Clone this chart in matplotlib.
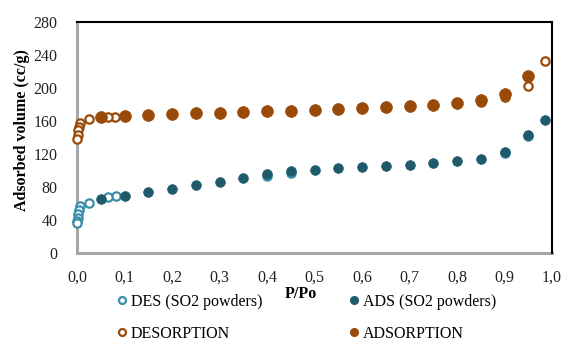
import matplotlib
matplotlib.use("Agg")
import matplotlib.pyplot as plt
from matplotlib.lines import Line2D

plt.rcParams['font.family'] = ['Liberation Serif', 'DejaVu Serif']

# SO2 powders adsorption / desorption
ads_so2_x = [0.05, 0.10, 0.15, 0.20, 0.25, 0.30, 0.35, 0.40, 0.45, 0.50, 0.55, 0.60,
             0.65, 0.70, 0.75, 0.80, 0.85, 0.90, 0.95, 0.985]
ads_so2_y = [65.5, 69.5, 73.5, 78.0, 82.0, 86.0, 90.5, 95.5, 99.0, 101.0, 102.6, 103.8,
             105.5, 107.0, 108.7, 111.5, 114.3, 122.0, 143.0, 161.5]
des_so2_x = [0.95, 0.90, 0.45, 0.40, 0.083, 0.066, 0.025, 0.007, 0.005, 0.003, 0.002, 0.001, 0.0005]
des_so2_y = [142.0, 121.0, 96.5, 93.5, 69.0, 67.5, 61.0, 57.0, 52.0, 47.0, 43.0, 39.0, 36.0]

# reference sample adsorption / desorption
ads_x = [0.05, 0.10, 0.15, 0.20, 0.25, 0.30, 0.35, 0.40, 0.45, 0.50, 0.55, 0.60,
         0.65, 0.70, 0.75, 0.80, 0.85, 0.90, 0.95]
ads_y = [165.2, 166.4, 167.7, 168.5, 169.3, 170.1, 170.9, 171.8, 172.5, 173.7, 174.5, 175.8,
         176.6, 178.0, 179.8, 181.8, 185.5, 193.0, 214.5]
des_x = [0.985, 0.95, 0.90, 0.85, 0.08, 0.066, 0.025, 0.007, 0.005, 0.003, 0.002, 0.001]
des_y = [232.5, 202.4, 188.7, 183.5, 165.0, 165.0, 162.4, 157.0, 153.0, 149.0, 143.0, 138.0]

orange = '#9A4A08'
teal = '#1F5A6A'
lteal = '#3A8FA8'

fig = plt.figure(figsize=(5.66, 3.43), dpi=100)
ax = fig.add_axes([77/566, 1-253/343, (552-77)/566, (253-22)/343])

ax.plot(des_so2_x, des_so2_y, 'o', ms=6, mfc='white', mec=lteal, mew=1.6, ls='none',
        label='DES (SO2 powders)', zorder=3, clip_on=False)
ax.plot(ads_so2_x, ads_so2_y, 'o', ms=7, mfc=teal, mec=teal, mew=0.5, ls='none',
        label='ADS (SO2 powders)', zorder=4, clip_on=False)
ax.plot(des_x, des_y, 'o', ms=6, mfc='white', mec=orange, mew=1.6, ls='none',
        label='DESORPTION', zorder=5, clip_on=False)
ax.plot(ads_x, ads_y, 'o', ms=8.5, mfc=orange, mec=orange, mew=0.5, ls='none',
        label='ADSORPTION', zorder=6, clip_on=False)

ax.set_xlim(0, 1.0)
ax.set_ylim(0, 280)
ax.set_xticks([i/10 for i in range(11)])
ax.set_xticklabels([f"{i/10:.1f}".replace('.', ',') for i in range(11)])
ax.set_yticks(range(0, 281, 40))
ax.tick_params(length=0, labelsize=11.5, colors='#222222')
ax.tick_params(axis='x', pad=12)
ax.tick_params(axis='y', pad=14)

for s in ['left', 'bottom']:
    ax.spines[s].set_color('#a8a8a8')
    ax.spines[s].set_linewidth(2.2)
    ax.spines[s].set_zorder(1)
for s in ['top', 'right']:
    ax.spines[s].set_color('black')
    ax.spines[s].set_linewidth(1.5)

fig.text(22/566, 1-130/343, 'Adsorbed volume (cc/g)', rotation=90, ha='center', va='center',
         fontsize=11.5, fontweight='bold')
fig.text(301/566, 1-294/343, 'P/Po', ha='center', va='center', fontsize=11.5, fontweight='bold')

handles = [Line2D([], [], marker='o', ls='none', ms=5, mfc='white', mec=lteal, mew=1.6),
           Line2D([], [], marker='o', ls='none', ms=5, mfc='white', mec=orange, mew=1.6),
           Line2D([], [], marker='o', ls='none', ms=5.5, mfc=teal, mec=teal),
           Line2D([], [], marker='o', ls='none', ms=5.5, mfc=orange, mec=orange)]
labels = ['DES (SO2 powders)', 'DESORPTION', 'ADS (SO2 powders)', 'ADSORPTION']
fig.legend(handles, labels, ncol=2, loc='upper left', bbox_to_anchor=(118/566, 1-294/343),
           frameon=False, fontsize=11.5, handlelength=0.5, handletextpad=0.3,
           columnspacing=5.5, labelspacing=1.0, borderpad=0, borderaxespad=0)

fig.savefig('out.png', dpi=100)
